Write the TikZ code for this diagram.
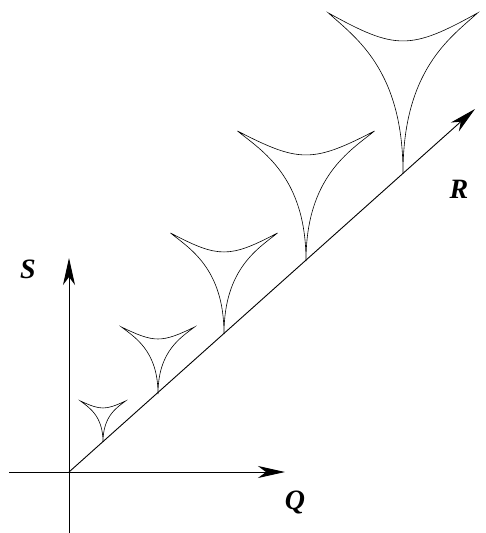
\documentclass[tikz,border=0pt]{standalone}
\usepackage{fontspec}
\setmainfont{Liberation Serif}
\usetikzlibrary{arrows.meta}
\tikzset{
  axis/.style={line width=0.9pt,-{Stealth[length=27pt,width=12pt,inset=8pt]}},
  cusp/.style={line width=0.6pt,line join=miter},
  lbl/.style={font=\bfseries\itshape\fontsize{28}{28}\selectfont}
}

\begin{document}
\begin{tikzpicture}[x=1pt,y=-1pt]
  \useasboundingbox (0,0) rectangle (485,533);
  \coordinate (O) at (69,472);
  \coordinate (Qw) at (9,472);
  \coordinate (Qe) at (285,472);
  \coordinate (Ss) at (69,533);
  \coordinate (Sn) at (69,258);
  \coordinate (Rt) at (475,109);
  % axes
  \draw[line width=0.9pt] (Qw) -- (O);
  \draw[axis] (O) -- (Qe);
  \draw[line width=0.9pt] (Ss) -- (O);
  \draw[axis] (O) -- (Sn);
  \draw[axis] (O) -- (Rt);
  \node[lbl] (S) at (28,269) {S};
  \node[lbl] (Q) at (295,502) {Q};
  \node[lbl] (R) at (459,189) {R};
  % cusped sections along R
  \foreach \bx/\by/\hw/\h/\d in {
    103/442/22.5/41/7, 158/394/36.5/67/12, 224/334/53.5/101/19,
    306/261/68.5/130/24, 403/173/74.5/160/28} {
    \draw[cusp] (\bx,\by) .. controls (\bx,{\by-0.65*\h}) and ({\bx-0.65*\hw},{\by-0.85*\h})
      .. ({\bx-\hw},{\by-\h})
      .. controls ({\bx-0.1*\hw},{\by-\h+1.33*\d}) and ({\bx+0.1*\hw},{\by-\h+1.33*\d})
      .. ({\bx+\hw},{\by-\h})
      .. controls ({\bx+0.65*\hw},{\by-0.85*\h}) and (\bx,{\by-0.65*\h}) .. (\bx,\by);
  }
\end{tikzpicture}
\end{document}
